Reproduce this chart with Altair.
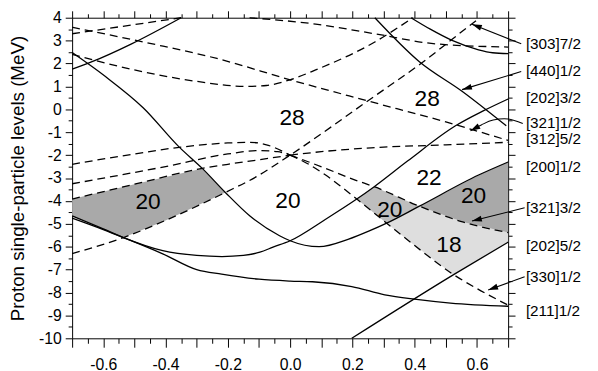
import math
import altair as alt
import pandas as pd

# ---------------- data ----------------
# axes
X_DOMAIN = [-0.7, 0.7]
Y_DOMAIN = [-10, 4]
x_tick_values = [round(-0.7 + 0.05 * k, 2) for k in range(29)]
y_tick_values = [-10 + 0.5 * k for k in range(29)]

# solid levels (deformation, energy MeV)
s1_x = [-0.7, -0.636, -0.509, -0.35]
s1_y = [1.75, 2.08, 2.86, 4.0]
a_x = [-0.7, -0.593, -0.472, -0.356, -0.282, -0.208, -0.129, -0.034, 0.0, 0.093, 0.188, 0.256, 0.31, 0.415, 0.605, 0.7]
a_y = [2.48, 1.43, 0.07, -1.65, -2.58, -3.63, -4.66, -5.52, -5.74, -6.0, -5.67, -5.3, -4.97, -4.23, -2.87, -2.3]
b_x = [-0.7, -0.6, -0.535, -0.409, -0.3, -0.219, -0.15, -0.097, -0.055, 0.0, 0.114, 0.214, 0.27, 0.378, 0.531, 0.62, 0.7]
b_y = [-4.65, -5.22, -5.6, -6.17, -6.38, -6.43, -6.38, -6.24, -6.02, -5.74, -4.8, -3.92, -3.38, -2.25, -0.72, -0.07, 0.45]
c_x = [-0.7, -0.6, -0.535, -0.409, -0.3, -0.22, -0.1, 0.0, 0.072, 0.198, 0.304, 0.399, 0.515, 0.7]
c_y = [-4.75, -5.25, -5.6, -6.31, -7.0, -7.2, -7.42, -7.5, -7.53, -7.74, -8.1, -8.29, -8.46, -8.6]
e_x = [0.272, 0.415, 0.552, 0.694]
e_y = [4.0, 2.08, 0.79, -0.72]
f_x = [0.388, 0.45, 0.52, 0.605, 0.65, 0.7]
f_y = [4.0, 3.5, 3.01, 2.6, 2.47, 2.43]
g_x = [0.198, 0.525, 0.7]
g_y = [-10.0, -7.22, -5.8]

# dashed levels
d1_x = [0.0, 0.06, 0.114, 0.209, 0.27, 0.415, 0.557, 0.7]
d1_y = [-2.0, -2.3, -2.58, -3.09, -3.38, -4.23, -4.93, -5.38]
d2_x = [0.0, 0.06, 0.114, 0.214, 0.31, 0.4, 0.525, 0.6, 0.7]
d2_y = [-2.0, -2.4, -2.87, -3.92, -4.97, -5.95, -7.22, -7.83, -8.55]
d3_x = [-0.7, -0.5, -0.282, -0.2, -0.108, 0.0]
d3_y = [-3.92, -3.27, -2.58, -2.4, -2.22, -2.0]
d4_x = [-0.7, -0.535, -0.4, -0.208, -0.108, 0.0, 0.256, 0.415, 0.604, 0.61]
d4_y = [-6.3, -5.6, -4.85, -3.63, -2.94, -2.0, 0.43, 1.95, 3.94, 4.0]
d5_x = [-0.7, -0.45, -0.235, 0.0, 0.251, 0.5, 0.7]
d5_y = [3.58, 2.88, 2.22, 1.29, 0.36, -0.55, -1.36]
d6_x = [-0.7, -0.5, -0.3, -0.14, -0.076, 0.0, 0.082, 0.272, 0.394]
d6_y = [2.4, 1.72, 1.22, 1.0, 1.04, 1.29, 1.72, 2.94, 4.0]
d7_x = [-0.7, -0.5, -0.35, -0.2, -0.13, -0.076, 0.0]
d7_y = [-2.4, -1.95, -1.65, -1.47, -1.44, -1.55, -2.0]
d8_x = [-0.7, -0.4, -0.2, -0.1, -0.04, 0.0]
d8_y = [-3.25, -2.5, -1.95, -1.8, -1.85, -2.0]
d9_x = [-0.13, 0.082, 0.272, 0.467, 0.7]
d9_y = [4.0, 3.72, 3.3, 2.86, 2.72]
d10_x = [-0.7, -0.35]
d10_y = [3.3, 4.0]
d11_x = [0.0, 0.1, 0.26, 0.5, 0.7]
d11_y = [-2.0, -1.85, -1.68, -1.55, -1.44]

# level labels on the right
level_labels = ["[303]7/2", "[440]1/2", "[202]3/2", "[321]1/2", "[312]5/2",
                "[200]1/2", "[321]3/2", "[202]5/2", "[330]1/2", "[211]1/2"]
level_label_y = [2.86, 1.65, 0.50, -0.60, -1.28, -2.51, -4.30, -5.95, -7.31, -8.82]
level_label_x = 0.757

# leader lines (label -> arrow tip)
lead_303_x, lead_303_y = [0.742, 0.584], [2.86, 3.72]
lead_440_x, lead_440_y = [0.742, 0.552], [1.65, 0.86]
lead_321a_x, lead_321a_y = [0.747, 0.70, 0.652, 0.614, 0.579], [-0.62, -0.42, -0.47, -0.68, -0.94]
lead_321b_x, lead_321b_y = [0.753, 0.584], [-4.30, -4.88]
lead_330_x, lead_330_y = [0.753, 0.636], [-7.31, -7.89]

# shell-gap numbers
gap_labels = ["28", "28", "20", "20", "22", "20", "20", "18"]
gap_x = [0.006, 0.44, -0.456, -0.007, 0.446, 0.32, 0.589, 0.51]
gap_y = [-0.38, 0.44, -4.07, -4.02, -3.01, -4.38, -3.8, -5.95]

# ---------------- build tables ----------------
W, H = 442, 325
FONT = "Liberation Sans, Arial, Helvetica, sans-serif"


def curves_df(curves):
    rows = []
    for name, (xs, ys) in curves.items():
        for i, (x, y) in enumerate(zip(xs, ys)):
            rows.append({"curve": name, "i": i, "x": x, "y": y})
    return pd.DataFrame(rows)


solid_df = curves_df({"s1": (s1_x, s1_y), "a": (a_x, a_y), "b": (b_x, b_y), "c": (c_x, c_y),
                      "e": (e_x, e_y), "f": (f_x, f_y), "g": (g_x, g_y)})
dashed_df = curves_df({"d1": (d1_x, d1_y), "d2": (d2_x, d2_y), "d3": (d3_x, d3_y), "d4": (d4_x, d4_y),
                       "d5": (d5_x, d5_y), "d6": (d6_x, d6_y), "d7": (d7_x, d7_y), "d8": (d8_x, d8_y),
                       "d9": (d9_x, d9_y), "d10": (d10_x, d10_y), "d11": (d11_x, d11_y)})
leads = {"l303": (lead_303_x, lead_303_y), "l440": (lead_440_x, lead_440_y),
         "l321a": (lead_321a_x, lead_321a_y), "l321b": (lead_321b_x, lead_321b_y),
         "l330": (lead_330_x, lead_330_y)}
lead_df = curves_df(leads)

# arrow heads at the tip of each leader
sx, sy = W / 1.4, H / 14.0
heads = []
for name, (xs, ys) in leads.items():
    dx = (xs[-1] - xs[-2]) * sx
    dy = -(ys[-1] - ys[-2]) * sy
    ang = math.degrees(math.atan2(dx, -dy)) % 360
    heads.append({"x": xs[-1], "y": ys[-1], "ang": ang})
head_df = pd.DataFrame(heads)


def seg(xs, ys, lo, hi, rev=False):
    pts = [(x, y) for x, y in zip(xs, ys) if lo - 1e-9 <= x <= hi + 1e-9]
    return pts[::-1] if rev else pts


polys = {
    "left": (seg(d3_x, d3_y, -0.7, -0.282) + seg(d4_x, d4_y, -0.535, -0.208, True)
             + seg(b_x, b_y, -0.7, -0.6, True), "#a9a9a9"),
    "mid": (seg(b_x, b_y, 0.214, 0.27) + seg(d1_x, d1_y, 0.415, 0.415) + seg(a_x, a_y, 0.31, 0.31), "#bebebe"),
    "light": (seg(a_x, a_y, 0.31, 0.415) + seg(d1_x, d1_y, 0.557, 0.7) + seg(g_x, g_y, 0.525, 0.7, True)
              + seg(d2_x, d2_y, 0.4, 0.4), "#dedede"),
    "dark": (seg(a_x, a_y, 0.415, 0.7) + seg(d1_x, d1_y, 0.557, 0.7, True), "#a9a9a9"),
}

xs_ = alt.Scale(domain=X_DOMAIN, nice=False, zero=False)
ys_ = alt.Scale(domain=Y_DOMAIN, nice=False, zero=False)


def X(axis=None):
    return alt.X("x:Q", scale=xs_, axis=axis)


def Y(axis=None):
    return alt.Y("y:Q", scale=ys_, axis=axis)


layers = []
for name, (pts, col) in polys.items():
    pdf = pd.DataFrame([{"i": i, "x": x, "y": y} for i, (x, y) in enumerate(pts)])
    layers.append(alt.Chart(pdf).mark_line(interpolate="linear-closed", fill=col, strokeOpacity=0)
                  .encode(x=X(), y=Y(), order="i:Q"))

major_x = "abs(datum.value*10 - round(datum.value*10)) < 0.001"
major_y = "abs(datum.value - round(datum.value)) < 0.001"
tsx_b = {"condition": {"test": major_x, "value": 9}, "value": 5}
tsx = {"condition": {"test": major_x, "value": 7}, "value": 4}
tsy = {"condition": {"test": major_y, "value": 7}, "value": 4}

x_bottom = alt.Axis(orient="bottom", values=x_tick_values, tickSize=tsx_b, title=None, grid=False,
                    labelExpr="abs(datum.value*5 - round(datum.value*5)) < 0.001 && abs(datum.value) < 0.65 ? "
                              "(datum.value < -0.001 ? '-' : '') + format(abs(datum.value), '.1f') : ''",
                    labelFontSize=16, labelPadding=10, labelFlush=False, labelOverlap=False)
y_left = alt.Axis(orient="left", values=y_tick_values, tickSize=tsy, grid=False,
                  title="Proton single-particle levels (MeV)", titleFontSize=19, titleFontWeight="normal",
                  titlePadding=11,
                  labelExpr=major_y + " ? (datum.value < 0 ? '-' : '') + abs(datum.value) : ''",
                  labelFontSize=16, labelPadding=4, labelFlush=False, labelOverlap=False)
x_top = alt.Axis(orient="top", values=x_tick_values, tickSize=tsx, labels=False, title=None, grid=False)
y_right = alt.Axis(orient="right", values=y_tick_values, tickSize=tsy, labels=False, title=None, grid=False)

solid = alt.Chart(solid_df).mark_line(color="black", strokeWidth=1.3, interpolate="monotone").encode(
    x=X(x_bottom), y=Y(y_left), detail="curve:N", order="i:Q")
frame = alt.Chart(solid_df).mark_point(opacity=0).encode(x=X(x_top), y=Y(y_right))
dashed = alt.Chart(dashed_df).mark_line(color="black", strokeWidth=1.3, strokeDash=[8, 5],
                                        interpolate="monotone").encode(
    x=X(), y=Y(), detail="curve:N", order="i:Q")
leader = alt.Chart(lead_df).mark_line(color="black", strokeWidth=1.1, interpolate="cardinal").encode(
    x=X(), y=Y(), detail="curve:N", order="i:Q")
arrow = alt.Chart(head_df).mark_point(shape="M0,0L0.6,2L-0.6,2Z", filled=True, size=100,
                                      color="black", opacity=1).encode(
    x=X(), y=Y(), angle=alt.Angle("ang:Q", scale=None))

gap_df = pd.DataFrame({"x": gap_x, "y": gap_y, "t": gap_labels})
gaps = alt.Chart(gap_df).mark_text(font=FONT, fontSize=23, color="black").encode(
    x=X(), y=Y(), text="t:N")
lab_df = pd.DataFrame({"x": [level_label_x] * len(level_labels), "y": level_label_y, "t": level_labels})
labs = alt.Chart(lab_df).mark_text(font=FONT, fontSize=15.5, align="left", color="black").encode(
    x=X(), y=Y(), text="t:N")

chart = alt.layer(*layers, dashed, solid, frame, leader, arrow, gaps, labs).resolve_axis(
    x="independent", y="independent"
).properties(
    width=W, height=H,
    autosize=alt.AutoSizeParams(type="none"),
    padding={"left": 65, "top": 7.3, "right": 83, "bottom": 40},
).configure_view(strokeWidth=0).configure_axis(
    labelFont=FONT, titleFont=FONT, labelColor="black", titleColor="black",
    tickColor="black", domainColor="black", tickWidth=1, domainWidth=1
)

chart.save("out.html", embed_options={"renderer": "svg", "actions": False})
